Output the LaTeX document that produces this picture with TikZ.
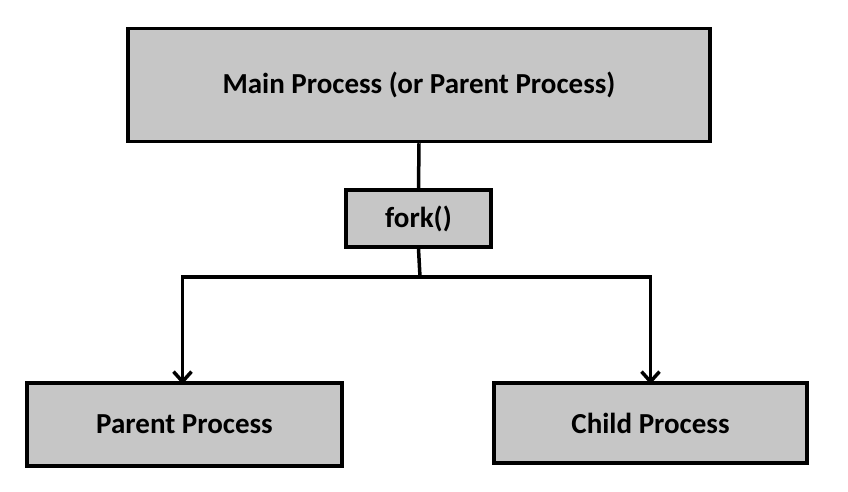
\documentclass[tikz,border=0pt]{standalone}
\usepackage{fontspec}
\setmainfont{Carlito}
\usetikzlibrary{arrows.meta}
\begin{document}
\begin{tikzpicture}[x=1pt,y=-1pt,
  box/.style={draw=black,line width=3.5pt,fill=gray!45,font=\bfseries\fontsize{29}{32}\selectfont,inner sep=0pt},
  conn/.style={line width=3.5pt}]
\useasboundingbox (0,0) rectangle (848,492);
\node[box,minimum width=582,minimum height=113] (main) at (419,85) {Main Process (or Parent Process)};
\node[box,minimum width=145,minimum height=57] (fork) at (418.5,218.5) {fork()};
\node[box,minimum width=315,minimum height=83] (par) at (184.5,424.5) {Parent Process};
\node[box,minimum width=313,minimum height=80] (chi) at (650.5,423) {Child Process};
\coordinate (j) at (420,277);
\draw[conn] (main.south) -- (fork.north);
\draw[conn] (fork.south) -- (j);
\draw[conn,-{Straight Barb[length=10pt,width=18pt,line width=3.5pt]}] (j) -| ([xshift=-2pt,yshift=-3pt]par.north);
\draw[conn,-{Straight Barb[length=10pt,width=18pt,line width=3.5pt]}] (j) -| ([yshift=-3pt]chi.north);
\end{tikzpicture}
\end{document}
